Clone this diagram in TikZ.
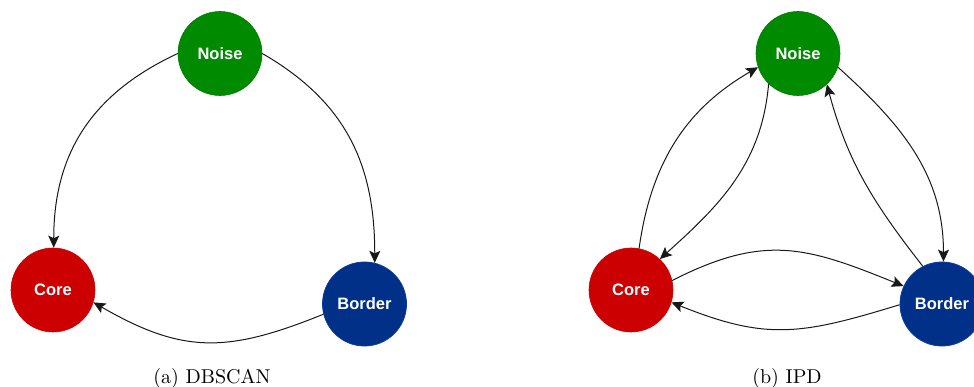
\documentclass[tikz,border=0pt]{standalone}
\usepackage{fontspec}
\newfontfamily\lsans{Liberation Sans}
\newfontfamily\capfont{lmroman10-regular}[Extension=.otf]
\usetikzlibrary{arrows.meta}
\definecolor{noisegreen}{HTML}{008A00}
\definecolor{corered}{HTML}{CC0000}
\definecolor{borderblue}{HTML}{003087}
\definecolor{borderline}{HTML}{0A3C9E}
\begin{document}
\begin{tikzpicture}[x=1pt,y=1pt,
  state/.style={circle,minimum size=84pt,inner sep=0pt,text=white,
    font=\lsans\bfseries\fontsize{16.5}{18}\selectfont},
  noisest/.style={state,fill=noisegreen,draw=noisegreen!90!black,line width=0.6pt},
  corest/.style={state,fill=corered,draw=corered,line width=0.6pt},
  borderst/.style={state,fill=borderblue,draw=borderline,line width=0.8pt},
  edge/.style={draw=black!90,line width=1pt,-{Stealth[length=12pt,width=11pt,inset=2.5pt]}},
  caption/.style={anchor=base,font=\capfont\fontsize{20}{24}\selectfont}]
\useasboundingbox (0,0) rectangle (974,387);
% (a) DBSCAN
\node[noisest] (n1) at (220,333.5) {Noise};
\node[corest] (c1) at (53,97) {Core};
\node[borderst] (b1) at (364.5,83) {Border};
\draw[edge] (n1.180) to[out=205,in=90,looseness=1.05] (c1.89);
\draw[edge] (n1.0) to[out=-30,in=90,looseness=1.05] (b1.76);
\draw[edge] (b1.194) to[out=202,in=-30,looseness=1.15] (c1.343);
\node[caption] (capa) at (212,3.7) {(a) DBSCAN};
% (b) IPD
\node[noisest] (n2) at (798,333.5) {Noise};
\node[corest] (c2) at (631,97) {Core};
\node[borderst] (b2) at (942,83) {Border};
\draw[edge] (c2.79) to[out=82,in=210,looseness=1.0] (n2.199);
\draw[edge] (n2.226) to[out=265,in=42,looseness=1.0] (c2.47);
\draw[edge] (n2.341) to[out=-42,in=90,looseness=1.0] (b2.88);
\draw[edge] (b2.117) to[out=128,in=-75,looseness=1.0] (n2.313);
\draw[edge] (c2.13) to[out=27,in=158,looseness=1.15] (b2.155);
\draw[edge] (b2.181) to[out=197,in=-22,looseness=1.15] (c2.343);
\node[caption] (capb) at (787,3.7) {(b) IPD};
\end{tikzpicture}
\end{document}
